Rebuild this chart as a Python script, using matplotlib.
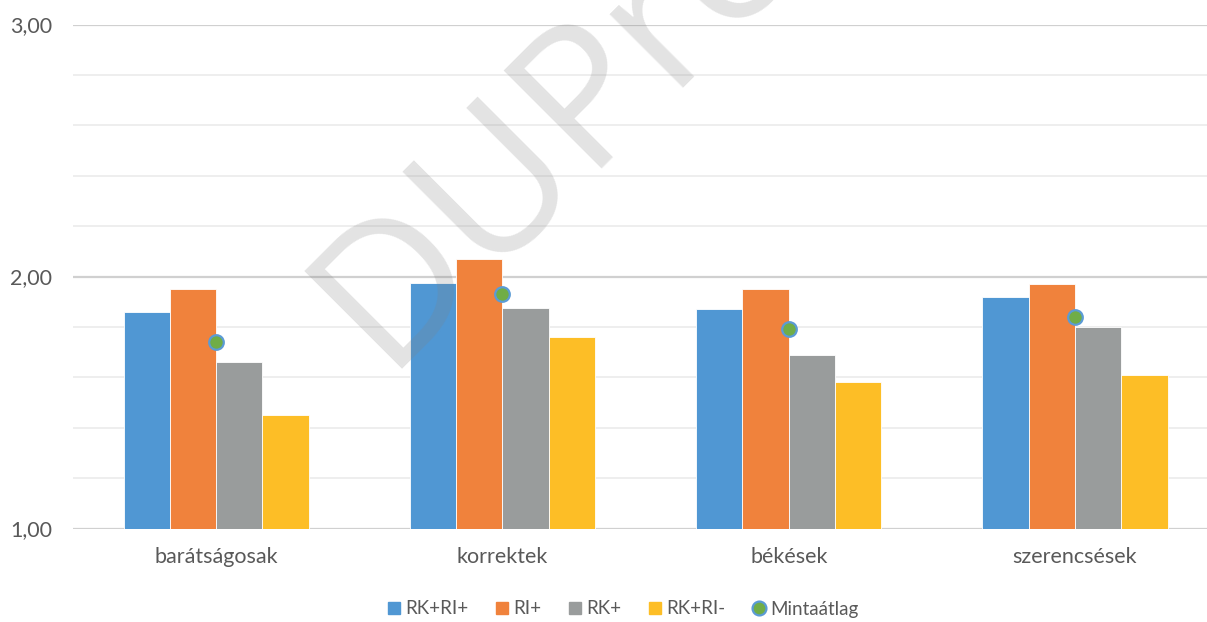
import numpy as np
import matplotlib
matplotlib.use("Agg")
import matplotlib.pyplot as plt
from matplotlib.lines import Line2D

# data
categories = ["barátságosak", "korrektek", "békések", "szerencsések"]
rk_ri_plus = [1.86, 1.975, 1.87, 1.92]
ri_plus = [1.95, 2.07, 1.95, 1.97]
rk_plus = [1.66, 1.875, 1.69, 1.80]
rk_ri_minus = [1.45, 1.76, 1.58, 1.61]
mintaatlag = [1.74, 1.93, 1.79, 1.84]

series_names = ["RK+RI+", "RI+", "RK+", "RK+RI-"]
colors = ["#5097D3", "#F0823C", "#999C9C", "#FDBE26"]
dot_fill = "#70AD47"
dot_edge = "#5B9BD5"
text_col = "#595959"

plt.rcParams["font.family"] = ["Lato", "DejaVu Sans"]

fig = plt.figure(figsize=(12.07, 6.22), dpi=100)
W, H = 1207, 622
ax = fig.add_axes([73 / W, (H - 528.5) / H, (W - 73) / W, (528.5 - 24.5) / H])

x = np.arange(len(categories))
w = 0.1617
series = [rk_ri_plus, ri_plus, rk_plus, rk_ri_minus]
for i, (vals, c) in enumerate(zip(series, colors)):
    ax.bar(x + (i - 1.5) * w, np.array(vals) - 1.0, width=w, bottom=1.0,
           color=c, edgecolor="white", linewidth=0.6, zorder=3)

ax.plot(x, mintaatlag, linestyle="none", marker="o", markersize=10.5,
        markerfacecolor=dot_fill, markeredgecolor=dot_edge,
        markeredgewidth=1.6, zorder=6)

ax.set_xlim(-0.5, -0.5 + (W - 73) / 286.3)
ax.set_ylim(1.0, 3.0)
ax.set_yticks([1.0, 2.0, 3.0])
ax.set_yticklabels(["1,00", "2,00", "3,00"])
ax.set_yticks(np.arange(1.2, 3.0, 0.2), minor=True)
ax.set_xticks(x)
ax.set_xticklabels(categories)

ax.grid(axis="y", which="major", color="#D0D0D0", linewidth=1.6, zorder=1)
ax.grid(axis="y", which="minor", color="#EDEDED", linewidth=1.3, zorder=1)
for s in ax.spines.values():
    s.set_visible(False)
ax.tick_params(axis="both", which="both", length=0, labelsize=15.5,
               labelcolor=text_col)
ax.tick_params(axis="y", pad=15)
ax.tick_params(axis="x", pad=13)

# watermark
fig.text(384 / W, (H - 369) / H, "DUPress", rotation=45, rotation_mode="anchor",
         ha="left", va="baseline", fontsize=140, family="Open Sans",
         color="#808080", alpha=0.22, zorder=5)

handles = [Line2D([], [], linestyle="none", marker="s", markersize=9,
                  markerfacecolor=c, markeredgecolor=c) for c in colors]
handles.append(Line2D([], [], linestyle="none", marker="o", markersize=10,
                      markerfacecolor=dot_fill, markeredgecolor=dot_edge,
                      markeredgewidth=1.6))
leg = fig.legend(handles, series_names + ["Mintaátlag"], loc="center",
                 bbox_to_anchor=(0.515, (H - 609) / H), ncol=5, frameon=False,
                 fontsize=13.5, handletextpad=0.1, columnspacing=1.3,
                 handlelength=1.0)
for t in leg.get_texts():
    t.set_color(text_col)

fig.savefig("out.png", dpi=100)
